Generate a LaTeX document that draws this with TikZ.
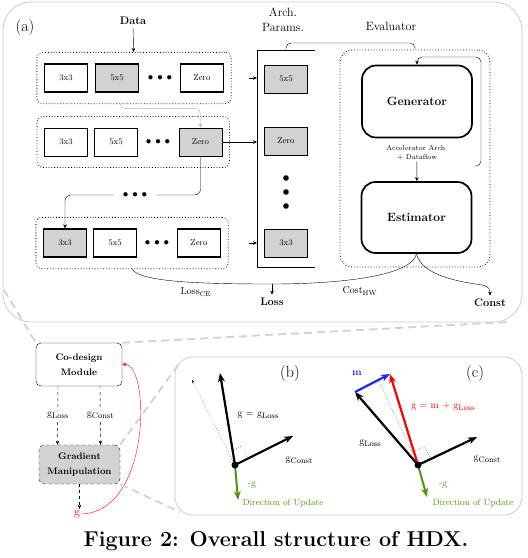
\documentclass[tikz,border=0pt]{standalone}
\usetikzlibrary{arrows.meta,positioning,fit}
\definecolor{vert}{RGB}{76,150,10}
\definecolor{bleu}{RGB}{20,40,255}
\newcommand{\indice}[1]{\raisebox{-2pt}{\fontsize{8}{8}\selectfont #1}}
\begin{document}
\begin{tikzpicture}[x=1pt,y=-1pt]
  % Styles des blocs, des cadres et des vecteurs
  \tikzset{
    op/.style={draw, line width=1.3pt, minimum width=43pt, minimum height=28pt, inner sep=0pt, font=\fontsize{8.5}{9}\selectfont},
    opsel/.style={op, fill=gray!35},
    archop/.style={opsel, line width=0.9pt},
    ellip/.style={inner sep=1pt, font=\fontsize{11}{11}\selectfont},
    rowbox/.style={draw, dotted, thick, rounded corners=6pt, inner xsep=7pt, inner ysep=11pt},
    evalblk/.style={draw, line width=1.7pt, rounded corners=14pt, minimum width=110pt, minimum height=72pt, font=\bfseries\fontsize{12}{12}\selectfont},
    cadre/.style={draw=gray!40, line width=0.8pt},
    zoomtrait/.style={draw=gray!35, dash pattern=on 8pt off 5pt, line width=1.8pt},
    vecteur/.style={line width=2.2pt, -{Stealth[length=9pt,width=7pt]}},
    lbl/.style={font=\fontsize{10}{10}\selectfont, inner sep=1pt},
    titre/.style={font=\bfseries\fontsize{11}{11}\selectfont},
    petit/.style={-{Stealth[length=4pt,width=3.5pt]}},
  }
  \useasboundingbox (0,0) rectangle (528,558);

  % panneau (a)
  \draw[cadre, rounded corners=28pt] (3,2) rectangle (522,322);
  \node[font=\fontsize{16}{16}\selectfont] (pa) at (25,28) {(a)};
  \node[titre] (data) at (133,21) {Data};
  \node[font=\fontsize{12}{15}\selectfont, align=center] (arch) at (283,20) {Arch.\\Params.};
  \node[font=\fontsize{12}{12}\selectfont] (evalt) at (391,26) {Evaluator};

  \node[op] (r1a) at (66,78) {3x3};
  \node[opsel] (r1b) at (117,78) {5x5};
  \node[ellip] (r1d) at (160,78) {$\bullet\hspace{1.5pt}\bullet\hspace{1.5pt}\bullet$};
  \node[op] (r1z) at (202,78) {Zero};
  \node[rowbox, fit=(r1a)(r1z)] (row1) {};

  \node[op, line width=0.9pt] (r2a) at (66,142) {3x3};
  \node[op, line width=0.9pt] (r2b) at (116,142) {5x5};
  \node[ellip] (r2d) at (158,142) {$\bullet\hspace{1.5pt}\bullet\hspace{1.5pt}\bullet$};
  \node[opsel, line width=0.9pt] (r2z) at (200.5,142) {Zero};
  \node[rowbox, fit=(r2a)(r2z)] (row2) {};

  \node[opsel] (r3a) at (65,243) {3x3};
  \node[op] (r3b) at (115,243) {5x5};
  \node[ellip] (r3d) at (157,243) {$\bullet\hspace{1.5pt}\bullet\hspace{1.5pt}\bullet$};
  \node[op] (r3z) at (199,243) {Zero};
  \node[rowbox, fit=(r3a)(r3z)] (row3) {};

  \draw[petit] (data) -- (row1);
  \draw[black!30, rounded corners=5pt, petit] ([xshift=-14pt]row1.south) |- ([yshift=19pt]r2z.north) -- (r2z.north);
  \node[ellip, fill=white, inner xsep=9pt] (mdots) at (135,195) {$\bullet\hspace{1.5pt}\bullet\hspace{1.5pt}\bullet$};
  \draw[rounded corners=6pt] (r2z.south) |- (mdots.east);
  \draw[rounded corners=6pt, petit] (mdots.west) -| (r3a.north);

  % parametres d'architecture
  \coordinate (archhaut) at (286,50);
  \draw (315,50) -| (257,267) -- (315,267);
  \node[archop] (a1) at (286,79) {5x5};
  \node[archop] (a2) at (286,141) {Zero};
  \node[archop] (a3) at (286,243) {3x3};
  \foreach \y in {178,192,206} \fill (286,\y) circle (2.8pt);
  \coordinate (s1) at (249,78); \coordinate (e1) at (257,78);
  \coordinate (e2) at (257,142);
  \coordinate (s3) at (249,243); \coordinate (e3) at (257,243);
  \draw[petit] (s1) -- (e1);
  \draw[petit] (r2z.east) -- (e2);
  \draw[petit] (s3) -- (e3);

  % evaluateur
  \node[draw, dotted, thick, rounded corners=12pt, minimum width=150pt, minimum height=217pt] (eval) at (415,158.5) {};
  \draw[rounded corners=5pt] (archhaut) |- (415,43) -- (eval.north);
  \node[evalblk] (gen) at (417,101.5) {Generator};
  \node[evalblk, minimum height=71pt] (est) at (416.5,217.5) {Estimator};
  \node[font=\fontsize{7}{8.5}\selectfont, align=center, inner sep=1pt] (acc) at (417,153) {Accelerator Arch.\\+ Dataflow};
  \draw[petit] (acc) -- (est);
  \coordinate (boucle) at (474,166);
  \draw[rounded corners=5pt, petit] (boucle) -| (481,57) -| (gen.north);

  % pertes
  \coordinate (lj) at (272,284);
  \node[titre] (loss) at (272,302) {Loss};
  \node[titre] (const) at (490,303) {Const};
  \draw (row3.south) .. controls (140,282) and (200,284) .. (lj);
  \draw (est.south) .. controls (412,276) and (340,284) .. (lj);
  \draw[petit] (lj) -- (loss);
  \draw[petit] (est.south) .. controls (422,278) and (470,283) .. (482,285) .. controls (489,286) and (490,290) .. (const.north);
  \node[font=\fontsize{10}{10}\selectfont] (lce) at (196,292) {Loss$_{\mathrm{CE}}$};
  \node[font=\fontsize{10}{10}\selectfont] (chw) at (360,291) {Cost$_{\mathrm{HW}}$};

  % module de co-conception
  \node[draw, rounded corners=5pt, minimum width=86pt, minimum height=43pt, align=center, font=\bfseries\fontsize{9.5}{15}\selectfont] (cod) at (79,364.5) {Co-design\\Module};
  \node[draw, dashed, fill=gray!35, rounded corners=5pt, minimum width=81pt, minimum height=39pt, align=center, font=\bfseries\fontsize{9.5}{15}\selectfont] (gm) at (79.5,464.5) {Gradient\\Manipulation};
  \draw[dashed, petit] ([xshift=-21pt]cod.south) -- node[fill=white, lbl] (gl) {g\indice{Loss}} ([xshift=-22pt]gm.north);
  \draw[dashed, petit] ([xshift=21pt]cod.south) -- node[fill=white, lbl] (gc) {g\indice{Const}} ([xshift=21pt]gm.north);
  \node[red, font=\fontsize{12}{12}\selectfont, inner sep=1pt] (gvec) at (77,514) {g};
  \draw[dashed, petit] (gm.south) -- (gm.south |- gvec.north);
  \draw[red, petit] (gvec.east) .. controls (152,512) and (150,363) .. (cod.east);

  % traits de zoom
  \coordinate (za) at (4,290);
  \coordinate (zb) at (508,322);
  \coordinate (zc) at (181,361);
  \coordinate (zd) at (180,512);
  \draw[zoomtrait] (za) -- (cod.north west);
  \draw[zoomtrait] (cod.north east) -- (zb);
  \draw[zoomtrait] (gm.north east) -- (zc);
  \draw[zoomtrait] (gm.south east) -- (zd);

  % panneaux (b) et (c)
  \draw[cadre, rounded corners=18pt] (175,357) rectangle (522,515);
  \node[font=\fontsize{16}{16}\selectfont] (pb) at (290,374) {(b)};
  \coordinate (ob) at (235,465);
  \coordinate (bL) at (220,373);
  \coordinate (bC) at (293,436);
  \coordinate (bP) at (192,380);
  \coordinate (bU) at (238,500);
  \draw[dotted, -{Stealth[length=3pt,width=2.5pt]}] (ob) -- (bP);
  \draw[dotted] (247.5,458.7) -- (241.2,446.2) -- (228.7,452.5);
  \draw[vecteur] (ob) -- (bL);
  \draw[vecteur] (ob) -- (bC);
  \draw[vecteur, vert, line width=2pt] (ob) -- (bU);
  \fill (ob) circle (3.5pt);
  \node[lbl] (bgl) at (258,415) {g = g\indice{Loss}};
  \node[lbl] (bgc) at (299,460) {g\indice{Const}};
  \node[lbl, vert] (bmg) at (252,485) {-g};
  \node[font=\fontsize{9}{9}\selectfont, vert] (bdir) at (283,503) {Direction of Update};

  \node[font=\fontsize{16}{16}\selectfont] (pc) at (475,374) {(c)};
  \coordinate (oc) at (418,465);
  \coordinate (cL) at (355,392);
  \coordinate (cM) at (390,374);
  \coordinate (cC) at (477,437);
  \coordinate (cP) at (379,381);
  \coordinate (cU) at (427,497);
  \draw[dotted] (oc) -- (cP);
  \draw[dotted] (430.6,459) -- (424.6,446.4) -- (412,452.4);
  \draw[vecteur] (oc) -- (cL);
  \draw[vecteur, bleu] (cL) -- (cM);
  \draw[vecteur, red] (oc) -- (cM);
  \draw[vecteur] (oc) -- (cC);
  \draw[vecteur, vert, line width=2pt] (oc) -- (cU);
  \fill (oc) circle (3.5pt);
  \node[lbl, bleu, font=\bfseries\fontsize{10}{10}\selectfont] (cm) at (357,373) {m};
  \node[lbl, red] (cg) at (443,407) {g = m + g\indice{Loss}};
  \node[lbl] (cgl) at (370,443) {g\indice{Loss}};
  \node[lbl] (cgc) at (487,459) {g\indice{Const}};
  \node[lbl, vert] (cmg) at (443,485) {-g};
  \node[font=\fontsize{9}{9}\selectfont, vert] (cdir) at (473,503) {Direction of Update};

  % legende
  \node[font=\bfseries\fontsize{21.5}{22}\selectfont] (cap) at (276,541) {Figure 2: Overall structure of HDX.};
\end{tikzpicture}
\end{document}
